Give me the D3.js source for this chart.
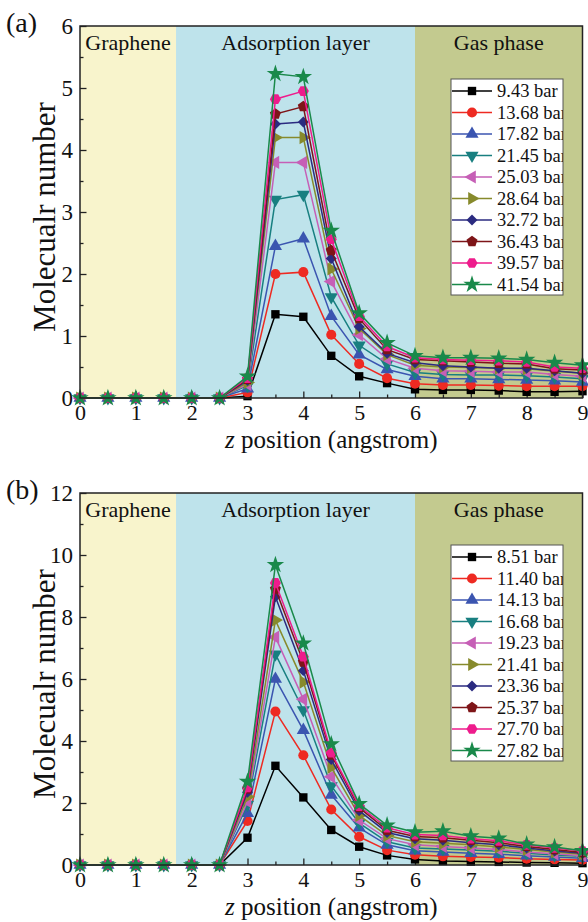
<!DOCTYPE html>
<html lang="en">
<head>
<meta charset="utf-8">
<script src="https://d3js.org/d3.v7.min.js"></script>
<style>
  body { margin: 0; background: #fff; }
  svg text { font-family: "Liberation Serif", "Times New Roman", serif; fill: #111; }
</style>
</head>
<body>
<div id="chart"></div>
<script>
// z positions (angstrom)
const zPos = [0, 0.5, 1, 1.5, 2, 2.5, 3, 3.5, 4, 4.5, 5, 5.5, 6, 6.5, 7, 7.5, 8, 8.5, 9];

// regions along z
const regions = ["Graphene", "Adsorption layer", "Gas phase"];
const regionBounds = [0, 1.72, 6, 9];

// legend labels
const pressuresA = ["9.43 bar", "13.68 bar", "17.82 bar", "21.45 bar", "25.03 bar",
  "28.64 bar", "32.72 bar", "36.43 bar", "39.57 bar", "41.54 bar"];
const pressuresB = ["8.51 bar", "11.40 bar", "14.13 bar", "16.68 bar", "19.23 bar",
  "21.41 bar", "23.36 bar", "25.37 bar", "27.70 bar", "27.82 bar"];

// molecular number, panel (a), one row per pressure
const seriesA = [
  [0, 0, 0, 0, 0, 0, 0.03, 1.35, 1.31, 0.68, 0.35, 0.24, 0.14, 0.13, 0.13, 0.12, 0.10, 0.10, 0.11],
  [0, 0, 0, 0, 0, 0, 0.09, 2.00, 2.03, 1.02, 0.55, 0.32, 0.23, 0.21, 0.21, 0.20, 0.19, 0.19, 0.19],
  [0, 0, 0, 0, 0, 0, 0.15, 2.45, 2.57, 1.32, 0.70, 0.46, 0.35, 0.31, 0.31, 0.30, 0.29, 0.28, 0.26],
  [0, 0, 0, 0, 0, 0, 0.20, 3.20, 3.28, 1.63, 0.85, 0.55, 0.41, 0.38, 0.37, 0.37, 0.36, 0.34, 0.31],
  [0, 0, 0, 0, 0, 0, 0.22, 3.80, 3.80, 1.88, 1.02, 0.63, 0.48, 0.44, 0.43, 0.42, 0.42, 0.38, 0.35],
  [0, 0, 0, 0, 0, 0, 0.25, 4.20, 4.20, 2.08, 1.12, 0.70, 0.53, 0.50, 0.49, 0.48, 0.47, 0.43, 0.40],
  [0, 0, 0, 0, 0, 0, 0.28, 4.42, 4.45, 2.25, 1.15, 0.72, 0.57, 0.52, 0.50, 0.48, 0.48, 0.44, 0.40],
  [0, 0, 0, 0, 0, 0, 0.30, 4.58, 4.70, 2.38, 1.28, 0.78, 0.62, 0.60, 0.58, 0.56, 0.55, 0.47, 0.45],
  [0, 0, 0, 0, 0, 0, 0.32, 4.82, 4.95, 2.56, 1.32, 0.83, 0.65, 0.62, 0.61, 0.60, 0.58, 0.50, 0.48],
  [0, 0, 0, 0, 0, 0, 0.35, 5.23, 5.18, 2.70, 1.37, 0.89, 0.68, 0.65, 0.65, 0.64, 0.62, 0.57, 0.53]
];

// molecular number, panel (b)
const seriesB = [
  [0, 0, 0, 0, 0, 0, 0.88, 3.20, 2.18, 1.13, 0.59, 0.31, 0.18, 0.13, 0.11, 0.10, 0.08, 0.07, 0.06],
  [0, 0, 0, 0, 0, 0, 1.42, 4.95, 3.54, 1.79, 0.91, 0.48, 0.33, 0.28, 0.26, 0.24, 0.20, 0.18, 0.16],
  [0, 0, 0, 0, 0, 0, 1.67, 6.00, 4.35, 2.26, 1.20, 0.65, 0.46, 0.42, 0.38, 0.35, 0.30, 0.26, 0.22],
  [0, 0, 0, 0, 0, 0, 1.95, 6.80, 5.00, 2.55, 1.35, 0.75, 0.55, 0.52, 0.48, 0.44, 0.38, 0.32, 0.28],
  [0, 0, 0, 0, 0, 0, 2.05, 7.35, 5.35, 2.85, 1.45, 0.85, 0.65, 0.60, 0.55, 0.50, 0.42, 0.36, 0.30],
  [0, 0, 0, 0, 0, 0, 2.20, 7.90, 5.90, 3.15, 1.60, 0.95, 0.75, 0.70, 0.65, 0.58, 0.50, 0.42, 0.35],
  [0, 0, 0, 0, 0, 0, 2.35, 8.65, 6.27, 3.40, 1.75, 1.05, 0.85, 0.80, 0.72, 0.65, 0.55, 0.45, 0.38],
  [0, 0, 0, 0, 0, 0, 2.45, 8.90, 6.55, 3.55, 1.85, 1.12, 0.92, 0.88, 0.80, 0.72, 0.60, 0.50, 0.40],
  [0, 0, 0, 0, 0, 0, 2.50, 9.10, 6.72, 3.62, 1.90, 1.20, 0.98, 0.95, 0.85, 0.78, 0.65, 0.55, 0.45],
  [0, 0, 0, 0, 0, 0, 2.69, 9.68, 7.15, 3.90, 1.97, 1.28, 1.06, 1.09, 0.93, 0.86, 0.67, 0.58, 0.46]
];

const colors = ["#000000", "#ee2a22", "#3b55b0", "#187f80", "#c65fb6",
  "#878a2c", "#2b2b80", "#7e1518", "#ee1c8c", "#19894a"];
const regionColors = ["#f8f4cc", "#bee3eb", "#c3ca8f"];

// polygon marker, rot in degrees for the first vertex
function poly(n, rot) {
  return {
    draw(ctx, size) {
      const r = Math.sqrt(size / (n / 2 * Math.sin(2 * Math.PI / n)));
      for (let i = 0; i < n; i++) {
        const a = (rot + i * 360 / n) * Math.PI / 180;
        if (i === 0) ctx.moveTo(r * Math.cos(a), r * Math.sin(a));
        else ctx.lineTo(r * Math.cos(a), r * Math.sin(a));
      }
      ctx.closePath();
    }
  };
}
const symbols = [poly(4, 45), d3.symbolCircle, poly(3, -90), poly(3, 90), poly(3, 180),
  poly(3, 0), poly(4, -90), poly(5, -90), poly(6, 0), d3.symbolStar];
const symSize = [70, 80, 75, 75, 75, 75, 60, 80, 80, 95];

const W = 588, H = 922;
const left = 80, right = 582.5;

const svg = d3.select("#chart")
  .append("svg")
  .attr("width", W)
  .attr("height", H);

function drawPanel(cfg) {
  const { top, bottom, yMax, yMajor, yMinor, series, labels, tag, legendTop } = cfg;
  const g = svg.append("g");

  const x = d3.scaleLinear().domain([0, 9]).range([left, right]);
  const y = d3.scaleLinear().domain([0, yMax]).range([bottom, top]);

  // background regions
  for (let i = 0; i < regions.length; i++) {
    g.append("rect")
      .attr("x", x(regionBounds[i]))
      .attr("y", top)
      .attr("width", x(regionBounds[i + 1]) - x(regionBounds[i]))
      .attr("height", bottom - top)
      .attr("fill", regionColors[i]);
    g.append("text")
      .attr("x", (x(regionBounds[i]) + x(regionBounds[i + 1])) / 2)
      .attr("y", top + 24)
      .attr("text-anchor", "middle")
      .style("font-size", "22px")
      .text(regions[i]);
  }

  // minor ticks
  g.append("g")
    .attr("transform", `translate(0,${bottom})`)
    .call(d3.axisBottom(x).tickValues(d3.range(0.5, 9, 1)).tickSize(-3.5).tickFormat(""))
    .call(a => a.select(".domain").remove());
  g.append("g")
    .attr("transform", `translate(${left},0)`)
    .call(d3.axisLeft(y).tickValues(d3.range(yMinor, yMax, yMajor)).tickSize(-3.5).tickFormat(""))
    .call(a => a.select(".domain").remove());

  // major axes
  const xa = g.append("g")
    .attr("transform", `translate(0,${bottom})`)
    .call(d3.axisBottom(x).ticks(9).tickSize(-6.5).tickPadding(6).tickFormat(d3.format("d")));
  xa.select(".domain").remove();
  xa.selectAll("text").style("font-size", "22px").attr("fill", "#111");

  const ya = g.append("g")
    .attr("transform", `translate(${left},0)`)
    .call(d3.axisLeft(y).tickValues(d3.range(0, yMax + 0.01, yMajor)).tickSize(-6.5).tickPadding(7).tickFormat(d3.format("d")));
  ya.select(".domain").remove();
  ya.selectAll("text").style("font-size", "23px").attr("fill", "#111");
  g.selectAll(".tick line").attr("stroke", "#222").attr("stroke-width", 1.3);

  // lines and markers
  const line = d3.line().x((d, i) => x(zPos[i])).y(d => y(d));
  series.forEach((vals, s) => {
    g.append("path")
      .datum(vals)
      .attr("d", line)
      .attr("fill", "none")
      .attr("stroke", colors[s])
      .attr("stroke-width", 1.5);
    g.selectAll(null)
      .data(vals)
      .join("path")
      .attr("transform", (d, i) => `translate(${x(zPos[i])},${y(d)})`)
      .attr("d", d3.symbol().type(symbols[s]).size(symSize[s]))
      .attr("fill", colors[s]);
  });

  // frame
  g.append("rect")
    .attr("x", left)
    .attr("y", top)
    .attr("width", right - left)
    .attr("height", bottom - top)
    .attr("fill", "none")
    .attr("stroke", "#222")
    .attr("stroke-width", 1.5);

  // legend
  const lx = 451, lw = 112, rowH = 21.5;
  const lh = rowH * labels.length + 1;
  const clipId = "clip-" + tag;
  g.append("clipPath").attr("id", clipId)
    .append("rect").attr("x", lx).attr("y", legendTop).attr("width", lw).attr("height", lh);
  const lg = g.append("g");
  lg.append("rect")
    .attr("x", lx).attr("y", legendTop).attr("width", lw).attr("height", lh)
    .attr("fill", "#fff");
  const rows = lg.append("g").attr("clip-path", `url(#${clipId})`);
  labels.forEach((lab, s) => {
    const cy = legendTop + 12 + s * rowH;
    rows.append("line")
      .attr("x1", lx + 1).attr("x2", lx + 41)
      .attr("y1", cy).attr("y2", cy)
      .attr("stroke", colors[s]).attr("stroke-width", 1.5);
    rows.append("path")
      .attr("transform", `translate(${lx + 21},${cy})`)
      .attr("d", d3.symbol().type(symbols[s]).size(symSize[s]))
      .attr("fill", colors[s]);
    rows.append("text")
      .attr("x", lx + 46)
      .attr("y", cy + 6)
      .style("font-size", "18.5px")
      .text(lab);
  });
  lg.append("rect")
    .attr("x", lx).attr("y", legendTop).attr("width", lw).attr("height", lh)
    .attr("fill", "none").attr("stroke", "#555").attr("stroke-width", 1);

  // axis titles
  const xt = g.append("text")
    .attr("x", (left + right) / 2)
    .attr("y", bottom + 50)
    .attr("text-anchor", "middle")
    .style("font-size", "25px");
  xt.append("tspan").style("font-style", "italic").text("z");
  xt.append("tspan").text(" position (angstrom)");

  g.append("text")
    .attr("transform", `translate(${left - 25},${(top + bottom) / 2 + 5}) rotate(-90)`)
    .attr("text-anchor", "middle")
    .style("font-size", "31px")
    .text("Molecualr number");

  g.append("text")
    .attr("x", 6)
    .attr("y", top + 6)
    .style("font-size", "28px")
    .text(`(${tag})`);
}

drawPanel({ top: 26, bottom: 398, yMax: 6, yMajor: 1, yMinor: 0.5,
  series: seriesA, labels: pressuresA, tag: "a", legendTop: 79 });
drawPanel({ top: 493, bottom: 865, yMax: 12, yMajor: 2, yMinor: 1,
  series: seriesB, labels: pressuresB, tag: "b", legendTop: 545 });
</script>
</body>
</html>
